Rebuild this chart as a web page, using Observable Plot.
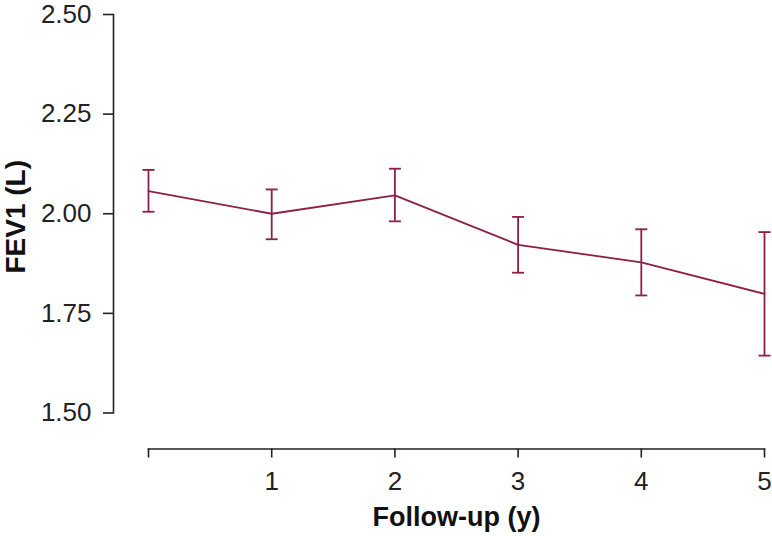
<!DOCTYPE html>
<html>
<head>
<meta charset="utf-8">
<script src="https://cdn.jsdelivr.net/npm/d3@7"></script>
<script src="https://cdn.jsdelivr.net/npm/@observablehq/plot@0.6"></script>
<style>
  html, body { margin: 0; padding: 0; background: #fff; }
  svg { display: block; }
</style>
</head>
<body>
<div id="chart"></div>
<script>
const years = [0, 1, 2, 3, 4, 5];
const meanFEV1 = [2.057, 2.000, 2.046, 1.922, 1.878, 1.799];
const upperFEV1 = [2.110, 2.061, 2.113, 1.992, 1.961, 1.954];
const lowerFEV1 = [2.005, 1.936, 1.981, 1.852, 1.795, 1.644];
const yTicks = [1.50, 1.75, 2.00, 2.25, 2.50];
const xTicks = [0, 1, 2, 3, 4, 5];
const xLabels = ["", "1", "2", "3", "4", "5"];

const data = years.map((y, i) => ({year: y, mean: meanFEV1[i], hi: upperFEV1[i], lo: lowerFEV1[i]}));

const color = "#8e1f47";
const axisColor = "#222";
const font = "Liberation Sans, Arial, Helvetica, sans-serif";

const capSymbol = {
  draw(context, size) {
    const r = Math.sqrt(size / Math.PI);
    context.moveTo(-r, 0);
    context.lineTo(r, 0);
  }
};

const chart = Plot.plot({
  width: 772,
  height: 536,
  marginLeft: 113,
  marginRight: 8,
  marginTop: 14,
  marginBottom: 87.5,
  style: {fontFamily: font, background: "#fff", color: "#222"},
  x: {domain: [0, 5], insetLeft: 35},
  y: {domain: [1.5, 2.5], insetBottom: 36},
  marks: [
    Plot.frame({anchor: "left", insetBottom: 36, stroke: axisColor, strokeWidth: 1.6}),
    Plot.frame({anchor: "bottom", insetLeft: 35, stroke: axisColor, strokeWidth: 1.6}),
    Plot.axisY({ticks: yTicks, tickFormat: d => d.toFixed(2), tickSize: 10, tickPadding: 12,
      fontSize: 26, stroke: axisColor, strokeWidth: 1.6, fill: "#222", label: null}),
    Plot.axisX({ticks: xTicks, tickFormat: d => xLabels[xTicks.indexOf(d)], tickSize: 9, tickPadding: 14,
      fontSize: 26, stroke: axisColor, strokeWidth: 1.6, fill: "#222", label: null}),
    Plot.text(["FEV1 (L)"], {frameAnchor: "left", textAnchor: "middle", rotate: -90, dx: -97, dy: -15,
      fontSize: 28, fontWeight: "bold", fill: "#111", text: d => d}),
    Plot.text(["Follow-up (y)"], {frameAnchor: "bottom", textAnchor: "middle", dx: 17.5, dy: 77,
      fontSize: 27, fontWeight: "bold", fill: "#111", text: d => d}),
    Plot.ruleX(data, {x: "year", y1: "lo", y2: "hi", stroke: color, strokeWidth: 1.8}),
    Plot.dot(data, {x: "year", y: "hi", symbol: capSymbol, r: 6, stroke: color, strokeWidth: 1.8, fill: "none"}),
    Plot.dot(data, {x: "year", y: "lo", symbol: capSymbol, r: 6, stroke: color, strokeWidth: 1.8, fill: "none"}),
    Plot.line(data, {x: "year", y: "mean", stroke: color, strokeWidth: 1.8})
  ]
});
document.getElementById("chart").appendChild(chart);
</script>
</body>
</html>
